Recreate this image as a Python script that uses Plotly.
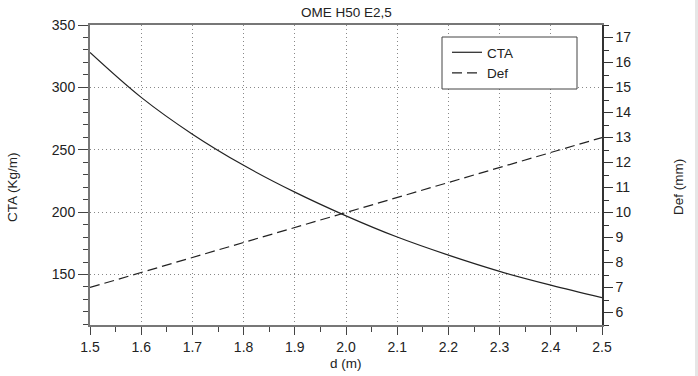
import plotly.graph_objects as go

d_m = [1.5, 1.6, 1.7, 1.8, 1.9, 2.0, 2.1, 2.2, 2.3, 2.4, 2.5]
cta = [328, 292, 262.5, 237.5, 216, 197, 180, 165.5, 152.5, 141.5, 131.5]
defl = [7.0, 7.6, 8.2, 8.8, 9.4, 10.0, 10.6, 11.2, 11.8, 12.4, 13.0]

title_txt = "OME H50 E2,5"
x_title = "d (m)"
y1_title = "CTA (Kg/m)"
y2_title = "Def (mm)"

FONT = "Liberation Sans, Arial, sans-serif"
TXT = "#222"
L, R, T, B, W, H = 90, 96, 25, 51, 698, 376
pw, ph = W - L - R, H - T - B


def px2paper(px, py):
    return (px - L) / pw, (H - B - py) / ph


fig = go.Figure()
fig.add_trace(go.Scatter(x=d_m, y=cta, name="CTA", mode="lines",
                         line=dict(color="#222", width=1.2, shape="spline")))
fig.add_trace(go.Scatter(x=d_m, y=defl, name="Def", mode="lines", yaxis="y2",
                         line=dict(color="#222", width=1.2, dash="10px,5px")))

grid = dict(showgrid=True, gridcolor="#888", griddash="1px,3px", gridwidth=1)

anns = []
for txt, (px, py), ang in [(title_txt, (346, 12), 0), (x_title, (346, 364), 0),
                           (y1_title, (12, 187), -90), (y2_title, (678, 187), -90)]:
    ax, ay = px2paper(px, py)
    anns.append(dict(text=txt, x=ax, y=ay, xref="paper", yref="paper", showarrow=False,
                     xanchor="center", yanchor="middle", textangle=ang,
                     font=dict(size=13.5, family=FONT, color=TXT)))

# legend box (white, opaque) drawn as a shape; legend text drawn on top of it
lx0, ly0 = px2paper(442, 89)
lx1, ly1 = px2paper(577, 37)
shapes = [dict(type="rect", xref="paper", yref="paper", x0=lx0, x1=lx1, y0=ly0, y1=ly1,
               fillcolor="white", line=dict(color="#444", width=1), layer="above")]
sx0, _ = px2paper(695, 0)
sx1, _ = px2paper(700, 0)
shapes.append(dict(type="rect", xref="paper", yref="paper",
                   x0=sx0, x1=sx1, y0=-B / ph - 0.05, y1=(H - B) / ph + 0.05,
                   fillcolor="#e6e6e6", line=dict(width=0), layer="above"))

legx, legy = px2paper(447, 37)

fig.update_layout(
    width=W, height=H,
    margin=dict(l=L, r=R, t=T, b=B),
    paper_bgcolor="white", plot_bgcolor="white",
    font=dict(family=FONT, size=14, color=TXT),
    showlegend=True,
    legend=dict(x=legx, y=legy, xanchor="left", yanchor="top",
                borderwidth=0, bgcolor="rgba(0,0,0,0)",
                font=dict(size=13.5), tracegroupgap=0),
    xaxis=dict(range=[1.5, 2.5], dtick=0.1, tick0=1.5, tickformat=".1f",
               showline=True, linecolor="#777", linewidth=2, mirror=True,
               ticks="outside", ticklen=8, tickcolor="#444", tickwidth=1,
               minor=dict(dtick=0.05, ticks="outside", ticklen=5, tickcolor="#444", showgrid=False),
               zeroline=False, **grid),
    xaxis2=dict(range=[1.5, 2.5], dtick=0.1, tick0=1.5, overlaying="x", anchor="y",
                side="bottom", ticks="inside", ticklen=5, tickcolor="#444", tickwidth=1,
                showticklabels=False, showgrid=False, showline=False, zeroline=False),
    yaxis=dict(range=[109.5, 350], dtick=50, tick0=0,
               showline=True, linecolor="#777", linewidth=2,
               ticks="outside", ticklen=10, tickcolor="#444", tickwidth=1,
               minor=dict(dtick=10, ticks="outside", ticklen=5, tickcolor="#444", showgrid=False),
               zeroline=False, **grid),
    yaxis3=dict(range=[109.5, 350], dtick=50, tick0=0, overlaying="y", anchor="x",
                side="left", ticks="inside", ticklen=5, tickcolor="#444", tickwidth=1,
                showticklabels=False, showgrid=False, showline=False, zeroline=False),
    yaxis2=dict(range=[5.5, 17.5], dtick=1, tick0=0, overlaying="y", side="right",
                showline=True, linecolor="#333", linewidth=1.5,
                ticks="outside", ticklen=9, tickcolor="#333", tickwidth=1,
                minor=dict(dtick=0.5, ticks="outside", ticklen=5, tickcolor="#333", showgrid=False),
                showgrid=False, zeroline=False),
    annotations=anns,
    shapes=shapes,
)

fig.write_html("out.html", config={"displayModeBar": False},
               post_script="document.body.style.margin='0';")
